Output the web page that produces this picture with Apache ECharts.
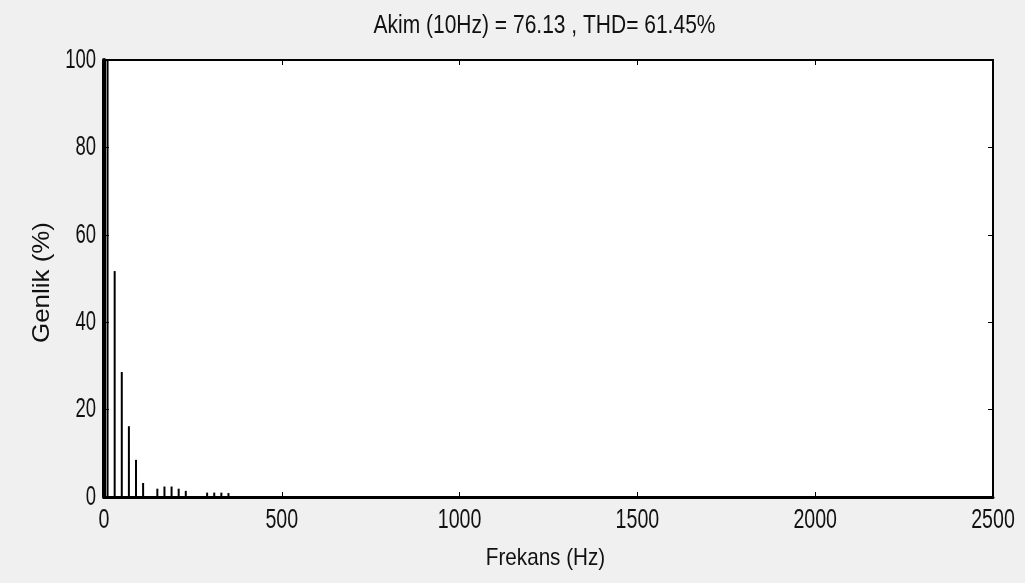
<!DOCTYPE html>
<html>
<head>
<meta charset="utf-8">
<script src="https://cdn.jsdelivr.net/npm/echarts@6/dist/echarts.min.js"></script>
<style>
html,body{margin:0;padding:0;background:#f0f0f0;}
#c{width:1025px;height:583px;}
</style>
</head>
<body>
<div id="c"></div>
<script>
const titleText = 'Akim (10Hz) = 76.13 , THD= 61.45%';
const xName = 'Frekans (Hz)';
const yName = 'Genlik (%)';
const freqs = [10, 30, 50, 70, 90, 110, 150, 170, 190, 210, 230, 290, 310, 330, 350];
const amps  = [100, 51.7, 28.6, 16.2, 8.5, 3.2, 1.9, 2.4, 2.4, 1.9, 1.4, 1.0, 1.0, 1.0, 0.9];
const xTicks = [0, 500, 1000, 1500, 2000, 2500];
const yTicks = [0, 20, 40, 60, 80, 100];

const font = "'Liberation Sans', Arial, sans-serif";
const chart = echarts.init(document.getElementById('c'));
const data = freqs.map((f, i) => [f, amps[i]]);
function ax(extra) {
  return Object.assign({
    axisLine: {show: true, onZero: false, lineStyle: {color: '#000', width: 2}},
    axisTick: {show: true, inside: true, length: 5, lineStyle: {color: '#000', width: 1}},
    axisLabel: {show: false},
    splitLine: {show: false}
  }, extra);
}
chart.setOption({
  backgroundColor: '#f0f0f0',
  animation: false,
  grid: {left: 104, right: 32, top: 60, bottom: 86, show: true, backgroundColor: '#fff',
         borderWidth: 2, borderColor: '#000'},
  xAxis: [
    ax({type: 'value', min: 0, max: 2500, interval: 500, position: 'bottom',
        axisLine: {show: true, onZero: false, lineStyle: {color: '#000', width: 3}}}),
    ax({type: 'value', min: 0, max: 2500, interval: 500, position: 'top'})
  ],
  yAxis: [
    ax({type: 'value', min: 0, max: 100, interval: 20, position: 'left',
        axisLine: {show: true, onZero: false, lineStyle: {color: '#000', width: 4}}}),
    ax({type: 'value', min: 0, max: 100, interval: 20, position: 'right'})
  ],
  series: [{
    type: 'bar',
    xAxisIndex: 0, yAxisIndex: 0,
    data: data,
    barWidth: 2,
    itemStyle: {color: '#000'},
    silent: true
  }, {
    type: 'line',
    xAxisIndex: 1, yAxisIndex: 1,
    data: [],
    silent: true
  }]
});

// Text drawn narrow (condensed) like the reference, positioned via the chart's own axes
const graphics = [];
const tickStyle = {fontFamily: font, fontSize: 28, fill: '#111'};
xTicks.forEach(v => {
  const px = chart.convertToPixel({xAxisIndex: 0}, v);
  const py = chart.convertToPixel({yAxisIndex: 0}, 0);
  graphics.push({type: 'text', x: px, y: py + 23, scaleX: 0.7, silent: true,
    style: Object.assign({text: String(v), align: 'center', verticalAlign: 'middle'}, tickStyle)});
});
yTicks.forEach(v => {
  const px = chart.convertToPixel({xAxisIndex: 0}, 0);
  const py = chart.convertToPixel({yAxisIndex: 0}, v);
  graphics.push({type: 'text', x: px - 8, y: py, scaleX: 0.66, silent: true,
    style: Object.assign({text: String(v), align: 'right', verticalAlign: 'middle'}, tickStyle)});
});
const midX = (chart.convertToPixel({xAxisIndex: 0}, 0) + chart.convertToPixel({xAxisIndex: 0}, 2500)) / 2;
const midY = (chart.convertToPixel({yAxisIndex: 0}, 0) + chart.convertToPixel({yAxisIndex: 0}, 100)) / 2;
graphics.push({type: 'text', x: midX - 4, y: 26, scaleX: 0.84, silent: true,
  style: {text: titleText, align: 'center', verticalAlign: 'middle', fontFamily: font, fontSize: 25, fill: '#111'}});
graphics.push({type: 'text', x: midX - 3, y: 558, scaleX: 0.86, silent: true,
  style: {text: xName, align: 'center', verticalAlign: 'middle', fontFamily: font, fontSize: 24, fill: '#111'}});
graphics.push({type: 'text', x: 42, y: midY + 4, rotation: Math.PI / 2, scaleX: 1.08, silent: true,
  style: {text: yName, align: 'center', verticalAlign: 'middle', fontFamily: font, fontSize: 24, fill: '#111'}});
chart.setOption({graphic: graphics});
</script>
</body>
</html>
